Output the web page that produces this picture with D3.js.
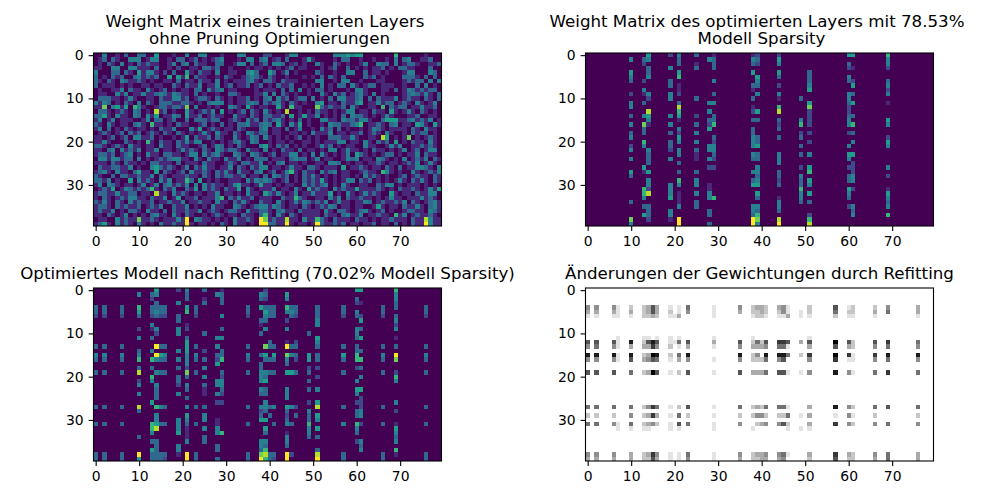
<!DOCTYPE html>
<html>
<head>
<meta charset="utf-8">
<script src="https://cdn.jsdelivr.net/npm/d3@7"></script>
<style>
  html, body { margin: 0; padding: 0; background: #fff; }
  text { font-family: "DejaVu Sans", sans-serif; fill: #000; }
</style>
</head>
<body>
<div id="chart"></div>
<script>
// colour level of each cell, 0 (background) to 9 (brightest)
var originalRows = [
  "0040010300 3300500010 0400440001 0004400002 2000144000 0000044454 5500000006 0000001000",
  "0130310044 4014400103 3013010134 0001044034 0120300015 1000010330 0100100104 0340011300",
  "0103104010 3131100140 3403110033 0014403013 0443012010 0410031010 0140043304 0133100113",
  "1100440044 1110300102 0011033130 0100010110 1010130110 0010130030 1010113010 3311000300",
  "4000330310 5144102030 0510311040 0110045300 5301401000 0310010044 0030110100 0144000430",
  "3010313003 4131300505 1603110010 3100134310 3100100010 1030310300 0031301000 0333103030",
  "3103104311 3101001103 0110311040 1011134103 3103111000 0440010440 0100011000 0131330404",
  "3011101010 0110110031 0311401140 1301130130 1031130010 1040103304 1013301110 0100304010",
  "0100114031 1041013010 1103304134 0110000101 1103030401 0330100010 4410001103 0143131330",
  "0110041401 1411343143 1103010010 0331000114 0403101001 0041041301 3410401000 0134314103",
  "0333110141 0011031144 1301331031 0101130103 4041301330 4010304411 3403031114 0131103103",
  "4143010310 4031033311 3310103444 0101134303 1341031010 0450110311 4501141330 1310410140",
  "1170451506 4100133133 1704001010 0431051011 0051061100 0731311304 1001106031 3301141130",
  "0331013104 3010813010 0510131405 0101303104 1010800101 0311010144 0110311051 0141031010",
  "3351041104 3041501143 0511301311 0041103103 3113050151 1401010304 3310101410 0011300110",
  "1401401110 0140330130 0303331330 0131041303 1341010301 0044110433 1441003555 1134131401",
  "3104101103 4106110103 1100130103 0103341134 3051041501 0010433113 4601131034 0110541051",
  "1403010310 1101031140 0041501310 1103100034 0110301400 1041303010 0101431011 1103104110",
  "0131013031 3013103103 1010141041 1031043133 0110011010 4111401101 1301310410 0103133010",
  "1101301304 4113010010 1503113031 0041014304 1010101301 0100333114 1001108501 0170101310",
  "1141000310 1061031103 1414400101 0134104300 1011010011 0101114401 1041031305 0103110410",
  "3310131041 1011041103 1100130143 0103100045 1031301010 0141301011 0041100141 4001131310",
  "1103404131 4011401101 4131031043 1331041104 0103110301 1010440141 1010311010 1401301440",
  "1331301340 1041103311 0144041341 0043104310 1301144010 4041010140 5310101330 1011403110",
  "0441441330 4010131344 1104104110 4114010333 0111034330 1401100143 4011043101 0401314031",
  "1110310311 0103311103 0111031100 1310331140 1034011010 0110443010 1101131011 0131401410",
  "0311331140 1004531310 1403141101 1403103144 0110141103 3101110501 1310110310 3011443104",
  "1341041103 5110503101 3041131031 4104110340 1301461031 1041340110 0131106410 1004101314",
  "3100303311 3114031011 1311031031 3311301103 0431301031 4101010110 1041310100 1301311031",
  "3314010050 4131041401 1630501010 0111041434 3101301031 3151010144 0313010101 4103141031",
  "1404310110 1401403413 1404041311 0145110151 1010110041 3134010410 0110031440 1011101010",
  "0131501431 3136103140 0315041310 3115041011 1401104105 1311041311 5111131010 3113101415",
  "1331141133 0110811041 3101101140 1101041105 3141014011 4111501041 0141310051 0110311440",
  "1031013144 1103114015 0113011146 0314113011 1003116310 0110414031 1311010141 1011141310",
  "3141031041 3113011311 4011311041 1031410031 1041014143 1314014110 1143013113 1403101341",
  "1331031311 3013140031 1401010411 0043101344 1431011031 0131430110 1100151011 0311410341",
  "1311401033 1041103031 1311401310 1331041133 1034110311 1104103310 1341013010 0133110431",
  "1103101401 0103411041 0310010131 0110311036 1041031011 1103110341 1401131106 1401311310",
  "0110041311 7113101114 1904311010 1041131097 1311811041 1631031110 3110101131 1103118411",
  "1351041310 4101041131 1910110103 1041101099 3311910110 1931131301 1011301103 0103119411"
];

// pruned layer: column number and its "row:level" cells
var prunedColumns = [10, 13, 14, 19, 21, 25, 28, 29, 38, 39, 44, 49, 51, 60, 61, 69];
var prunedCells = [
  "1:4 4:5 5:4 6:3 9:2 11:4 12:4 14:3 16:4 18:3 19:4 21:2 22:4 24:4 27:5 28:3 34:3 38:7 39:4",
  "1:3 2:2 6:2 8:4 9:1 11:3 14:4 16:7 17:3 18:3 20:6 21:4 26:5 27:1 31:6 32:6 33:4 35:3 37:5",
  "0:5 1:4 3:3 4:3 5:4 9:4 10:2 13:8 14:5 15:4 16:1 22:4 23:3 24:3 25:3 27:5 29:4 30:4 31:2 32:8 35:3 36:3 37:3 38:2",
  "0:2 3:4 6:3 7:3 9:4 10:4 14:4 16:4 18:3 20:3 21:3 22:2 24:4 30:4 31:4 32:4 33:5 36:4 37:4 38:1",
  "0:4 1:3 2:3 4:5 5:6 7:1 8:1 9:2 11:3 12:8 13:6 14:5 15:1 17:4 18:2 19:5 20:4 22:4 23:4 25:3 27:3 29:6 30:4 32:1 33:1 34:1 35:4 38:9 39:9",
  "0:3 2:1 3:3 10:3 14:2 16:3 18:4 20:4 22:3 23:1 24:1 27:3 29:4 30:4 32:4 34:3 35:3",
  "1:4 11:4 13:4 15:3 16:2 17:5 21:4 22:4 24:4 26:2 30:1 31:1 32:4 33:4 36:3 37:3 39:3",
  "0:1 1:3 2:3 3:3 6:4 9:3 11:4 14:3 15:3 16:6 19:3 20:2 21:4 22:4 23:3 24:2 26:2 33:6",
  "0:1 1:4 2:3 4:5 7:3 8:1 10:3 12:1 13:2 15:3 17:3 18:3 19:4 20:4 21:4 23:4 24:3 27:4 29:3 30:5 35:4 36:4 37:3 38:9 39:9",
  "0:2 1:3 2:2 5:5 6:4 7:3 9:4 13:5 15:3 19:3 20:3 21:5 23:3 24:3 26:4 27:4 28:3 29:4 30:5 32:5 33:3 35:4 36:3 37:6 38:7 39:4",
  "0:2 1:5 2:4 4:5 5:3 7:2 9:4 10:1 12:6 13:8 15:3 16:2 17:3 19:3 23:4 24:4 25:4 27:3 28:3 29:2 30:3 33:1 34:4 35:4 36:3 38:8 39:9",
  "10:3 15:4 16:6 18:2 19:3 21:3 23:3 26:2 28:4 29:3 30:3 31:6 32:4 33:4 34:3",
  "4:3 5:3 6:3 7:4 8:5 11:5 12:7 13:2 14:2 15:2 16:2 18:2 20:2 23:4 26:5 27:6 29:5 30:4 32:5 34:3 37:2 38:6 39:8",
  "0:5 2:3 3:2 5:4 6:3 9:4 10:4 11:3 12:2 13:2 14:3 15:4 16:4 18:2 21:4 23:5 24:4 26:2 28:3 29:3 31:5 32:4 33:3 35:2",
  "0:5 3:1 6:2 7:5 9:3 11:5 14:3 16:6 18:3 20:4 23:5 25:2 26:2 27:2 28:4 29:4 31:2 35:4 36:3 37:4",
  "0:6 1:4 2:4 3:2 6:3 7:4 8:2 9:4 11:1 15:5 16:4 19:2 20:5 21:4 26:4 28:2 31:1 32:5 33:4 34:3 35:4 37:6"
];

// refitted model
var refitColumns = [0, 2, 6, 10, 13, 14, 15, 16, 19, 21, 23, 25, 28, 29, 35, 38, 39, 40, 41, 44, 45, 46, 49, 51, 57, 60, 61, 66, 69, 76];
var refitCells = [
  "4:3 5:3 6:2 13:3 15:4 16:3 19:3 27:3 31:3 38:3 39:3",
  "4:3 5:3 6:2 13:3 15:4 16:3 19:3 27:3 31:3 38:3 39:3",
  "4:3 5:3 6:2 13:3 15:4 16:3 19:3 27:3 31:3 38:3 39:3",
  "1:4 4:6 5:5 6:3 9:2 11:4 14:3 15:4 16:6 18:3 19:8 21:2 22:4 24:4 27:8 28:3 34:3 38:9 39:5",
  "1:3 2:2 4:3 5:3 6:2 8:4 9:1 11:3 14:4 16:6 18:3 20:6 21:4 26:5 31:6 32:6 33:4 35:3 37:5 38:3 39:3",
  "0:5 1:4 3:3 4:3 5:4 6:3 9:4 10:2 13:9 15:9 16:4 19:4 22:4 23:3 24:3 25:3 27:6 29:4 30:4 31:5 32:8 35:3 36:3 37:3 38:3 39:3",
  "4:3 5:3 6:2 13:3 15:5 16:3 19:3 27:4 31:3 38:3 39:3",
  "4:3 5:3 6:2 13:3 15:4 16:3 19:3 27:3 31:3 38:3 39:2",
  "0:2 3:4 6:3 7:3 9:4 10:4 14:4 16:4 18:3 20:3 21:3 22:2 24:4 30:4 31:4 32:4 33:5 36:4 37:4 38:1",
  "0:4 1:3 2:3 4:5 5:6 8:1 9:2 11:3 12:5 13:5 14:5 15:4 16:4 17:4 18:2 19:7 20:3 22:4 23:3 25:3 27:4 29:5 30:4 31:3 32:1 33:1 34:1 35:4 38:9 39:9",
  "4:3 5:3 6:2 13:3 15:4 16:3 19:3 27:3 31:3 38:3 39:3",
  "0:3 2:1 3:3 10:3 14:2 16:3 18:4 20:4 22:3 23:1 24:1 27:3 29:4 30:4 32:4 34:3 35:3",
  "1:4 11:4 13:4 15:3 16:2 17:5 21:4 22:4 24:4 26:2 30:1 31:1 32:4 33:4 36:3 37:3 39:3",
  "0:1 1:3 2:3 3:3 6:4 9:3 11:4 14:3 15:3 16:6 19:3 20:2 21:4 22:4 23:3 24:2 26:2 33:6",
  "4:3 5:3 6:2 13:3 15:4 16:3 19:3 27:3 31:3 38:3 39:3",
  "1:4 2:3 4:5 7:3 8:1 10:3 15:3 17:3 18:3 19:4 20:4 21:4 23:4 24:3 27:4 28:2 29:3 30:5 35:4 36:4 37:3 38:7 39:9",
  "0:2 1:3 2:2 4:3 5:5 6:4 7:3 9:4 13:7 15:5 16:3 19:4 20:3 21:5 23:3 24:3 26:4 27:4 28:3 30:5 32:5 33:3 35:4 36:3 37:6 38:8 39:6",
  "4:3 5:3 6:3 12:3 13:3 16:3 19:3 27:3 29:3 38:3 39:3",
  "4:3 5:3 6:3 13:3 15:5 16:3 19:3 27:4 31:3 38:3 39:2",
  "1:5 2:4 4:6 5:4 7:2 9:4 12:1 13:9 15:7 16:4 17:3 19:5 23:4 24:4 25:4 27:5 28:3 29:2 30:3 31:4 33:1 34:4 35:4 36:3 38:9 39:9",
  "4:3 5:4 6:3 13:3 15:4 19:5 27:4 31:3 38:2",
  "4:3 5:3 6:2 12:2 13:3 15:3 16:2 19:3 27:2 29:3",
  "10:3 15:5 16:5 18:2 19:3 21:3 23:3 26:2 28:4 29:3 30:3 31:6 32:4 33:4 34:3",
  "4:3 5:3 6:3 7:4 8:4 11:5 12:4 13:3 15:3 16:3 18:2 20:2 23:4 26:5 27:8 29:5 30:4 32:5 34:3 37:3 38:8 39:9",
  "4:3 5:3 6:2 13:3 15:5 16:3 19:3 27:3 31:4 38:3 39:3",
  "0:5 2:3 3:2 5:4 6:3 9:4 10:4 11:3 13:3 14:3 15:6 16:6 18:2 21:4 23:5 24:4 26:2 28:3 29:3 31:6 32:4 33:3 35:2",
  "0:5 3:1 6:2 7:5 9:3 11:5 14:3 16:6 18:3 20:4 23:5 25:2 26:2 27:2 28:4 29:4 31:2 35:4 36:3 37:4",
  "4:3 5:3 6:2 13:3 15:4 16:3 19:3 27:3 31:3 38:3 39:3",
  "0:6 1:4 2:4 3:3 4:3 6:3 7:4 8:2 9:4 11:1 13:3 15:9 16:7 19:2 20:6 21:4 26:4 28:2 31:1 32:5 33:4 34:3 35:4 37:6 38:1",
  "4:3 5:3 6:2 13:3 15:4 16:3 19:3 27:3 31:3 38:3 39:3"
];

// weight changes: one digit per entry of diffRows, 0 white to 9 black
var diffRows = [4, 5, 6, 11, 12, 13, 15, 16, 19, 27, 29, 31, 32, 38, 39];
var diffColumns = [0, 2, 6, 7, 10, 13, 14, 15, 16, 19, 20, 21, 23, 29, 35, 38, 39, 40, 41, 44, 45, 46, 49, 51, 57, 60, 61, 66, 69, 76];
var diffLevels = [
  "431064846525043", "431065846525043", "431064846524043", "111111110001100",
  "231083865545133", "222123232222122", "332163343433132", "663087969774076",
  "332164856532043", "121112211111111", "001010000000000", "113151532256111",
  "540063846625054", "111131011111111", "430064846524043", "221123223220122",
  "322053423342032", "332023023243033", "221064855524043", "321075846524043",
  "441075866526054", "113061501152110", "011030201010100", "221163744333132",
  "652096978817076", "121063714444032", "221022111212022", "231064745524043",
  "450075857605055", "331054845524033"
];

var xTicks = [0, 10, 20, 30, 40, 50, 60, 70];
var yTicks = [0, 10, 20, 30];

var viridis = d3.scaleSequential(d3.interpolateViridis).domain([0, 9]);
var binary = d3.scaleLinear().domain([0, 9]).range(["#ffffff", "#000000"]);

var svg = d3.select("#chart")
            .append("svg")
            .attr("width", 1000)
            .attr("height", 500)
            .style("display", "block");

function parseRows(rows) {
  var cells = [];
  rows.forEach(function (row, r) {
    row.replace(/ /g, "").split("").forEach(function (ch, c) {
      cells.push({ col: c, row: r, level: +ch });
    });
  });
  return cells;
}

function parseColumns(columns, strings) {
  var cells = [];
  columns.forEach(function (col, i) {
    strings[i].split(" ").forEach(function (s) {
      var p = s.split(":");
      cells.push({ col: col, row: +p[0], level: +p[1] });
    });
  });
  return cells;
}

function parseDiff() {
  var cells = [];
  diffColumns.forEach(function (col, i) {
    diffLevels[i].split("").forEach(function (ch, j) {
      cells.push({ col: col, row: diffRows[j], level: +ch });
    });
  });
  return cells;
}

function drawPanel(left, top, cells, color, background, titles, titleY) {
  var x = d3.scaleLinear().domain([-0.5, 79.5]).range([left, left + 348]);
  var y = d3.scaleLinear().domain([-0.5, 39.5]).range([top, top + 173]);

  svg.append("rect")
     .attr("x", left).attr("y", top)
     .attr("width", 348).attr("height", 173)
     .attr("fill", background);

  svg.append("g")
     .attr("shape-rendering", "crispEdges")
     .selectAll("rect")
     .data(cells)
     .enter()
     .append("rect")
     .attr("x", d => x(d.col - 0.5))
     .attr("y", d => y(d.row - 0.5))
     .attr("width", d => x(d.col + 0.5) - x(d.col - 0.5))
     .attr("height", d => y(d.row + 0.5) - y(d.row - 0.5))
     .attr("fill", d => color(d.level));

  var xAxis = svg.append("g")
     .attr("transform", `translate(0, ${top + 173})`)
     .call(d3.axisBottom(x).tickValues(xTicks).tickSize(4.9).tickPadding(4.9));
  var yAxis = svg.append("g")
     .attr("transform", `translate(${left}, 0)`)
     .call(d3.axisLeft(y).tickValues(yTicks).tickSize(4.9).tickPadding(4.9));

  [xAxis, yAxis].forEach(function (axis) {
    axis.select(".domain").remove();
    axis.selectAll("line").attr("stroke", "#000").attr("stroke-width", 1.1);
    axis.selectAll("text")
        .style("font-family", '"DejaVu Sans", sans-serif')
        .style("font-size", "13.9px")
        .attr("fill", "#000");
  });

  svg.append("rect")
     .attr("x", left).attr("y", top)
     .attr("width", 348).attr("height", 173)
     .attr("fill", "none")
     .attr("stroke", "#000")
     .attr("stroke-width", 1.1);

  titles.forEach(function (t, i) {
    // two-line titles sit slightly off centre in the original
    var shift = titles.length > 1 ? (i === 0 ? -2.5 : 2) : 0;
    svg.append("text")
       .attr("x", left + 174 + shift)
       .attr("y", titleY + i * 17.4)
       .attr("text-anchor", "middle")
       .style("font-size", "16.67px")
       .text(t);
  });
}

drawPanel(93.5, 53, parseRows(originalRows), viridis, viridis(0),
  ["Weight Matrix eines trainierten Layers", "ohne Pruning Optimierungen"], 26.7);
drawPanel(585.5, 53, parseColumns(prunedColumns, prunedCells), viridis, viridis(0),
  ["Weight Matrix des optimierten Layers mit 78.53%", "Modell Sparsity"], 26.7);
drawPanel(93.5, 288, parseColumns(refitColumns, refitCells), viridis, viridis(0),
  ["Optimiertes Modell nach Refitting (70.02% Modell Sparsity)"], 279);
drawPanel(585.5, 288, parseDiff(), binary, "#ffffff",
  ["Änderungen der Gewichtungen durch Refitting"], 279);
</script>
</body>
</html>
